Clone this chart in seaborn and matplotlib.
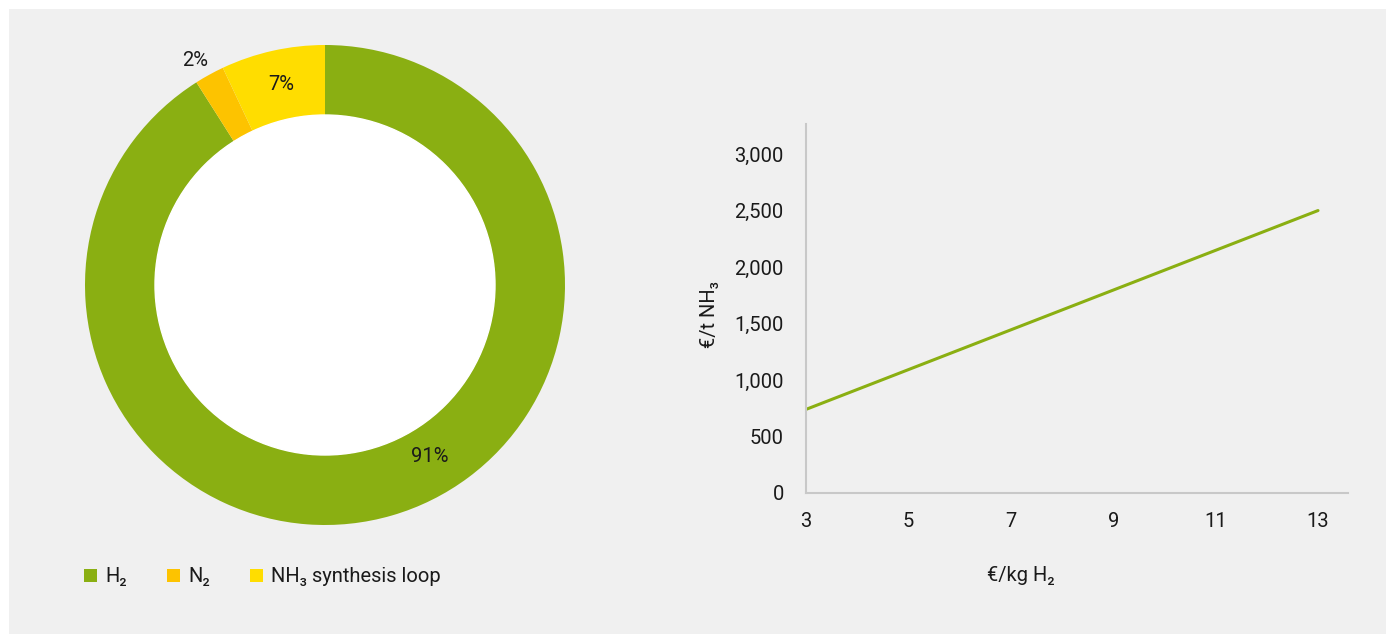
import matplotlib
matplotlib.use("Agg")
import matplotlib.pyplot as plt
import seaborn as sns
import pandas as pd
from matplotlib.patches import Rectangle, Patch

# ---- data ----
pie_labels = ["H\u2082", "N\u2082", "NH\u2083 synthesis loop"]
pie_values = [91, 2, 7]
pie_colors = ["#8aaf12", "#fdc300", "#ffdd00"]
pie_texts = ["91%", "2%", "7%"]

h2_cost = [3, 5, 7, 9, 11, 13]
nh3_cost = [740, 1092, 1444, 1796, 2148, 2500]
x_ticks = [3, 5, 7, 9, 11, 13]
y_ticks = [0, 500, 1000, 1500, 2000, 2500, 3000]

sns.set_theme(style="white")
FONT = ["Roboto", "DejaVu Sans"]
plt.rcParams["font.family"] = FONT

W, H = 1386, 634
fig = plt.figure(figsize=(W / 100, H / 100), dpi=100, facecolor="white")
bg = Rectangle((9 / W, 0), 1, 1 - 9 / H, transform=fig.transFigure,
               facecolor="#f0f0f0", edgecolor="none", zorder=-10)
fig.add_artist(bg)

def box(l, t, r, b):
    return [l / W, 1 - b / H, (r - l) / W, (b - t) / H]

# ---- donut ----
ax1 = fig.add_axes(box(85, 45, 565, 525))
ax1.set_facecolor("none")
ax1.pie(pie_values, colors=pie_colors, startangle=90, counterclock=False,
        radius=1, wedgeprops=dict(width=70 / 240, edgecolor="none"))
ax1.add_patch(plt.Circle((0, 0), 1 - 70 / 240, color="white", zorder=3))
pos = [(105, -172), (-130, 225), (-44, 201)]
for t, (dx, dy) in zip(pie_texts, pos):
    ax1.text(dx / 240, dy / 240, t, ha="center", va="center", fontsize=14.5,
             color="#1a1a1a", zorder=5)
ax1.set_xlim(-1, 1)
ax1.set_ylim(-1, 1)
ax1.set_aspect("equal")
ax1.axis("off")

handles = [Patch(facecolor=c, edgecolor="none") for c in pie_colors]
fig.legend(handles, pie_labels, loc="center left", bbox_to_anchor=(84 / W, 1 - 577 / H),
           ncol=3, frameon=False, fontsize=14.5, handlelength=0.65, handleheight=0.65,
           handletextpad=0.4, columnspacing=2.0, borderpad=0, borderaxespad=0,
           labelcolor="#1a1a1a")

# ---- line ----
ax2 = fig.add_axes(box(806, 124, 1348, 493))
ax2.set_facecolor("none")
df = pd.DataFrame({"h2": h2_cost, "nh3": nh3_cost})
sns.lineplot(data=df, x="h2", y="nh3", ax=ax2, color="#8aaf12", linewidth=2.2)
ax2.set_xlim(3, 3 + 542 / 51.2)
ax2.set_ylim(0, 368 / 0.11267)
ax2.set_xticks(x_ticks)
ax2.set_yticks(y_ticks)
ax2.set_yticklabels([f"{v:,}" for v in y_ticks])
ax2.tick_params(axis="both", length=0, labelsize=14.5, labelcolor="#1a1a1a")
ax2.tick_params(axis="y", pad=16)
ax2.tick_params(axis="x", pad=14)
for s in ["top", "right"]:
    ax2.spines[s].set_visible(False)
for s in ["left", "bottom"]:
    ax2.spines[s].set_color("#c8c8c8")
    ax2.spines[s].set_linewidth(1.5)
ax2.set_xlabel("\u20ac/kg H\u2082", fontsize=14.5, color="#1a1a1a")
ax2.set_ylabel("\u20ac/t NH\u2083", fontsize=14.5, color="#1a1a1a")
ax2.xaxis.set_label_coords((1021 - 806) / 542, -(566 - 493) / 369)
ax2.yaxis.set_label_coords(-(806 - 719) / 542, (493 - 315) / 369)
ax2.grid(False)

fig.savefig("out.png", dpi=100, facecolor="white")
